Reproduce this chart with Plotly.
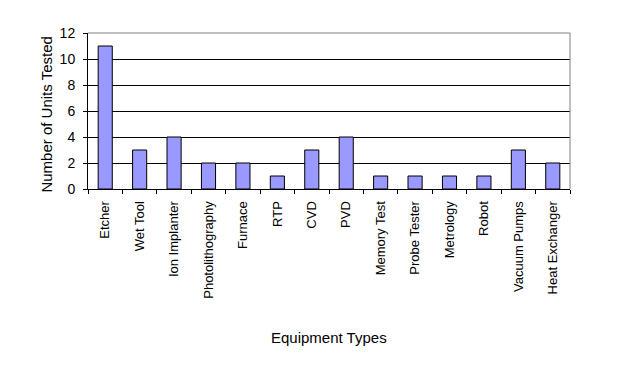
import plotly.graph_objects as go

categories = ["Etcher", "Wet Tool", "Ion Implanter", "Photolithography", "Furnace",
              "RTP", "CVD", "PVD", "Memory Test", "Probe Tester", "Metrology",
              "Robot", "Vacuum Pumps", "Heat Exchanger"]
units_tested = [11, 3, 4, 2, 2, 1, 3, 4, 1, 1, 1, 1, 3, 2]
y_ticks = [0, 2, 4, 6, 8, 10, 12]

FONT = "Liberation Sans, Arial, sans-serif"

fig = go.Figure(go.Bar(
    x=categories, y=units_tested,
    marker=dict(color="#9999FF", line=dict(color="black", width=1)),
    hoverinfo="x+y",
))

# the page body adds an 8px offset; margins compensate so the plot area
# lands at x 88..570, y 33..189 in the window
fig.update_layout(
    width=632, height=381,
    margin=dict(l=80, r=70, t=25, b=200),
    paper_bgcolor="white", plot_bgcolor="white",
    bargap=0.59,
    showlegend=False,
    font=dict(family=FONT, color="black", size=13),
)

fig.update_xaxes(
    type="category",
    showline=True, linecolor="black", linewidth=1,
    ticks="outside", tickson="boundaries", ticklen=4, tickcolor="black",
    tickangle=-90, tickfont=dict(size=13, family=FONT, color="black"),
    ticklabelstandoff=6,
    showgrid=False,
)
fig.update_yaxes(
    range=[0, 12], tickvals=y_ticks,
    showline=True, linecolor="black", linewidth=1,
    ticks="outside", ticklen=4, tickcolor="black",
    tickfont=dict(size=14, family=FONT, color="black"),
    ticklabelstandoff=5,
    showgrid=True, gridcolor="black", gridwidth=1,
    zeroline=False,
)

# grey plot-area border on top and right
fig.add_shape(type="line", xref="paper", yref="paper", x0=0, x1=1, y0=1, y1=1,
              line=dict(color="#808080", width=1), layer="above")
fig.add_shape(type="line", xref="paper", yref="paper", x0=1, x1=1, y0=0, y1=1,
              line=dict(color="#808080", width=1), layer="above")

fig.add_annotation(text="Equipment Types", xref="paper", yref="paper",
                   x=0.5, y=-0.955, xanchor="center", yanchor="middle",
                   showarrow=False, font=dict(size=15, family=FONT, color="black"))
fig.add_annotation(text="Number of Units Tested", xref="paper", yref="paper",
                   x=-0.086, y=0.474, xanchor="center", yanchor="middle",
                   textangle=-90, showarrow=False,
                   font=dict(size=15, family=FONT, color="black"))

fig.write_html("out.html")
